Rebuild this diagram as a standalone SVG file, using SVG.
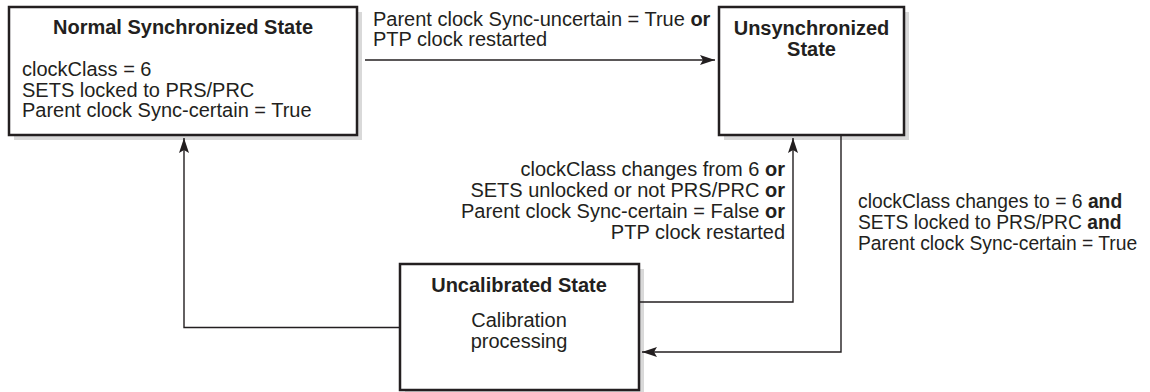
<svg xmlns="http://www.w3.org/2000/svg" width="1150" height="392" viewBox="0 0 1150 392">
<defs>
<style>
text{font-family:"Liberation Sans",Arial,Helvetica,sans-serif;font-size:20px;fill:#231f20}
.b{font-weight:bold}
.c{text-anchor:middle}
.r{text-anchor:end}
.s{font-size:19.3px}
.box{fill:#fff;stroke:#231f20;stroke-width:2.5}
.sh{fill:#d9d9d9}
.ln{fill:none;stroke:#231f20;stroke-width:1.4}
</style>
<marker id="ah" markerUnits="userSpaceOnUse" markerWidth="16" markerHeight="12" refX="15" refY="6" orient="auto">
<path d="M0,1 L15,6 L0,11 L3,6 Z" fill="#231f20"/>
</marker>
</defs>
<rect width="1150" height="392" fill="#fff"/>
<g id="normal-synchronized">
<rect class="sh" x="14" y="12" width="348" height="128"/>
<rect class="box" x="9" y="7" width="348" height="128"/>
<text class="b c" x="183" y="34">Normal Synchronized State</text>
<text x="22" y="76">clockClass = 6</text>
<text x="22" y="96.5">SETS locked to PRS/PRC</text>
<text x="22" y="117">Parent clock Sync-certain = True</text>
</g>
<g id="unsynchronized">
<rect class="sh" x="724" y="12" width="185" height="128"/>
<rect class="box" x="719" y="7" width="185" height="128"/>
<text class="b c" x="811.5" y="35">Unsynchronized</text>
<text class="b c" x="811.5" y="56">State</text>
</g>
<g id="uncalibrated">
<rect class="sh" x="405" y="269" width="239" height="126"/>
<rect class="box" x="400" y="264" width="239" height="126"/>
<text class="b c" x="519" y="292">Uncalibrated State</text>
<text class="c" x="519" y="327">Calibration</text>
<text class="c" x="519" y="348">processing</text>
</g>
<g id="connectors">
<path class="ln" d="M365,60 H715" marker-end="url(#ah)"/>
<path class="ln" d="M400,327.5 H184 V138" marker-end="url(#ah)"/>
<path class="ln" d="M639,302 H793 V138" marker-end="url(#ah)"/>
<path class="ln" d="M841,135 V352 H642" marker-end="url(#ah)"/>
<text x="373" y="26">Parent clock Sync-uncertain = True <tspan class="b">or</tspan></text>
<text x="373" y="46">PTP clock restarted</text>
<text class="r" x="785" y="176">clockClass changes from 6 <tspan class="b">or</tspan></text>
<text class="r" x="785" y="197">SETS unlocked or not PRS/PRC <tspan class="b">or</tspan></text>
<text class="r" x="785" y="218">Parent clock Sync-certain = False <tspan class="b">or</tspan></text>
<text class="r" x="785" y="239">PTP clock restarted</text>
<text class="s" x="858" y="208">clockClass changes to = 6 <tspan class="b">and</tspan></text>
<text class="s" x="858" y="229">SETS locked to PRS/PRC <tspan class="b">and</tspan></text>
<text class="s" x="858" y="250">Parent clock Sync-certain = True</text>
</g>
</svg>
